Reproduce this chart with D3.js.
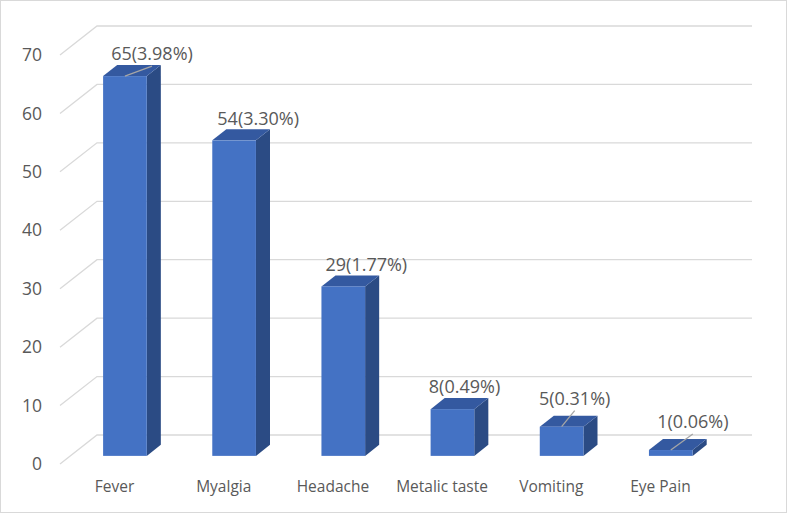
<!DOCTYPE html>
<html lang="en">
<head>
<meta charset="UTF-8">
<title>Symptoms</title>
<script src="https://d3js.org/d3.v7.min.js"></script>
<style>
  body { margin: 0; background: #fff; }
  text { font-family: "Open Sans", sans-serif; fill: #595959; }
</style>
</head>
<body>
<script>
// data
var categories = ["Fever", "Myalgia", "Headache", "Metalic taste", "Vomiting", "Eye Pain"];
var counts = [65, 54, 29, 8, 5, 1];
var percents = ["3.98%", "3.30%", "1.77%", "0.49%", "0.31%", "0.06%"];
var yTicks = [0, 10, 20, 30, 40, 50, 60, 70];
var leaderFor = ["Fever", "Vomiting", "Eye Pain"];

var W = 787, H = 513;
var depthX = 37, depthY = 29;     // floor depth projection
var zFront = 0.28, zBack = 0.66;  // bar position in depth
// label nudges (px) relative to bar back-top centre, as placed in the source chart
var labelShift = [13, 10, 9, -2, -1, 8];

var svg = d3.select("body").append("svg")
  .attr("width", W).attr("height", H);

// chart border
svg.append("rect")
  .attr("x", 0.5).attr("y", 0.5)
  .attr("width", W - 1).attr("height", H - 1)
  .attr("fill", "#fff").attr("stroke", "#d9d9d9");

var x = d3.scaleBand().domain(categories)
  .range([60, 715]).paddingInner(0.6).paddingOuter(0.3);
var y = d3.scaleLinear().domain([0, 70]).range([464, 55]);

function px(xv, z) { return xv + z * depthX; }
function py(v, z) { return y(v) - z * depthY; }

// gridlines: side wall diagonal + back wall
var grid = svg.append("g").attr("stroke", "#d9d9d9").attr("stroke-width", 1.3).attr("fill", "none");
yTicks.forEach(function(t) {
  grid.append("path").attr("d", d3.line()([
    [px(60, 0), py(t, 0)], [px(60, 1), py(t, 1)], [752, py(t, 1)]
  ]));
});

// y labels
svg.append("g").selectAll("text").data(yTicks).join("text")
  .attr("x", 42).attr("y", function(d) { return y(d); })
  .attr("dy", "0.35em").attr("text-anchor", "end")
  .style("font-size", "17.5px")
  .text(function(d) { return d; });

// bars
var bars = svg.append("g").selectAll("g").data(categories).join("g");
bars.each(function(c, i) {
  var g = d3.select(this);
  var x0 = x(c), x1 = x(c) + x.bandwidth(), v = counts[i];
  // side
  g.append("path").attr("fill", "#2b4b84").attr("d", d3.line()([
    [px(x1, zFront), py(0, zFront)], [px(x1, zBack), py(0, zBack)],
    [px(x1, zBack), py(v, zBack)], [px(x1, zFront), py(v, zFront)]
  ]) + "Z");
  // top
  g.append("path").attr("fill", "#3459a0").attr("d", d3.line()([
    [px(x0, zFront), py(v, zFront)], [px(x1, zFront), py(v, zFront)],
    [px(x1, zBack), py(v, zBack)], [px(x0, zBack), py(v, zBack)]
  ]) + "Z");
  // front
  g.append("rect").attr("fill", "#4472c4")
    .attr("x", px(x0, zFront)).attr("y", py(v, zFront))
    .attr("width", x.bandwidth()).attr("height", py(0, zFront) - py(v, zFront));
});

// data labels
categories.forEach(function(c, i) {
  var v = counts[i];
  var lead = leaderFor.indexOf(c) >= 0;
  var cx = px(x(c) + x.bandwidth() / 2, zBack) + labelShift[i];
  var cy = py(v, zBack) - (lead && v < 20 ? 17 : 11);
  svg.append("text")
    .attr("x", cx).attr("y", cy).attr("dy", "0.35em")
    .attr("text-anchor", "middle").style("font-size", "18px")
    .text(v + "(" + percents[i] + ")");
  if (lead) {
    svg.append("line")
      .attr("x1", px(x(c) + x.bandwidth() / 2, zFront)).attr("y1", py(v, zFront))
      .attr("x2", cx).attr("y2", cy + 12)
      .attr("stroke", "#a6a6a6").attr("stroke-width", 1.3);
  }
});

// category labels
svg.append("g").selectAll("text").data(categories).join("text")
  .attr("x", function(d) { return x(d) + x.bandwidth() / 2; })
  .attr("y", 487).attr("dy", "0.35em")
  .attr("text-anchor", "middle").style("font-size", "15.5px")
  .text(function(d) { return d; });
</script>
</body>
</html>
